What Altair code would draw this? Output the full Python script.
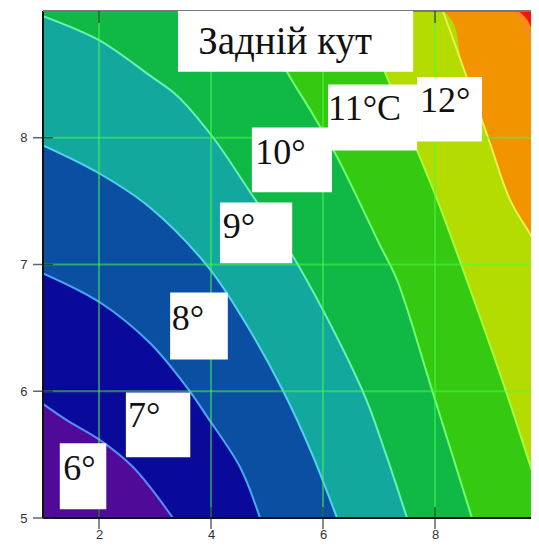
import altair as alt
import pandas as pd

# ---- axis ranges and ticks ----
X_MIN, X_MAX = 1.0, 9.714
Y_MIN, Y_MAX = 5.0, 9.0
x_ticks = [2, 4, 6, 8]
y_ticks = [5, 6, 7, 8]
y_grid = [6, 7, 8]

# ---- contour boundaries (x, y) ----
# boundary "k" separates band k-1 (left/below) from band k (right/above)
c7_x = [1.0, 1.43, 2.0, 2.61, 3.32]
c7_y = [5.90, 5.77, 5.62, 5.40, 5.0]
c8_x = [1.0, 2.02, 2.91, 3.57, 3.93, 4.52, 4.875]
c8_y = [6.93, 6.70, 6.38, 6.03, 5.80, 5.40, 5.0]
c9_x = [1.0, 2.0, 2.91, 3.95, 4.6, 5.29, 5.80, 6.25]
c9_y = [7.94, 7.72, 7.45, 6.98, 6.55, 6.0, 5.51, 5.0]
c10_x = [1.0, 2.0, 2.91, 3.4, 4.04, 4.7, 5.55, 6.71, 7.11, 7.5]
c10_y = [8.96, 8.77, 8.49, 8.33, 8.0, 7.57, 7.0, 6.0, 5.52, 5.0]
c11_x = [4.77, 5.41, 5.77, 6.25, 7.02, 7.32, 7.96, 8.66]
c11_y = [9.0, 8.48, 8.22, 7.85, 7.15, 6.88, 5.99, 5.0]
c12_x = [6.66, 7.14, 7.68, 8.04, 8.59, 9.29, 9.82, 10.05]
c12_y = [9.0, 8.48, 7.90, 7.51, 6.85, 5.97, 5.26, 5.0]
c13_x = [8.14, 8.5, 8.98, 9.34, 9.86, 10.3, 12.0]
c13_y = [9.0, 8.56, 7.96, 7.51, 7.12, 6.7, 5.0]
c14_x = [9.48, 9.86, 10.2, 12.0]
c14_y = [9.0, 8.64, 8.3, 5.0]

contours = {7: (c7_x, c7_y), 8: (c8_x, c8_y), 9: (c9_x, c9_y),
            10: (c10_x, c10_y), 11: (c11_x, c11_y), 12: (c12_x, c12_y),
            13: (c13_x, c13_y), 14: (c14_x, c14_y)}

band_colors = {6: "#500a98", 7: "#0a0a9a", 8: "#0b4fa2", 9: "#12a89e",
               10: "#10b846", 11: "#36c912", 12: "#b4dc00", 13: "#f29400"}
top_color = "#ff1010"
line_colors = {7: "#5a8cf5", 8: "#4aa8f5", 9: "#55d0f0", 10: "#6af0b0",
               11: "#70ff70", 12: "#a0ff40", 13: "#e8f050", 14: "#ff8040"}

# ---- label boxes and texts ----
lab_text = ["Задній кут", "11°C", "12°", "10°", "9°", "8°", "7°", "6°"]
lab_size = [39, 36, 36, 36, 36, 36, 36, 36]
lab_x = [3.77, 6.09, 7.73, 4.79, 4.21, 3.30, 2.52, 1.36]
lab_y = [8.66, 8.14, 8.20, 7.79, 7.21, 6.48, 5.72, 5.30]
box_x1 = [3.41, 6.09, 7.68, 4.73, 4.16, 3.27, 2.48, 1.30]
box_x2 = [7.61, 7.68, 8.84, 6.16, 5.45, 4.30, 3.63, 2.13]
box_y1 = [8.52, 7.90, 7.97, 7.57, 7.01, 6.25, 5.48, 5.07]
box_y2 = [9.0, 8.42, 8.48, 8.08, 7.49, 6.78, 5.99, 5.59]

xscale = alt.Scale(domain=[X_MIN, X_MAX], nice=False, zero=False)
yscale = alt.Scale(domain=[Y_MIN, Y_MAX], nice=False, zero=False)
xaxis = alt.Axis(values=x_ticks, format="d", ticks=False, tickSize=0, domain=False,
                 grid=False, labelPadding=10, labelFontSize=13, labelColor="#333",
                 labelFont="Liberation Sans", title=None)
yaxis = alt.Axis(values=y_ticks, format="d", ticks=False, tickSize=0, domain=False,
                 grid=False, labelPadding=16, labelFontSize=13, labelColor="#333",
                 labelFont="Liberation Sans", title=None)


def X(f):
    return alt.X(f, type="quantitative", scale=xscale, axis=xaxis, title=None)


def Y(f):
    return alt.Y(f, type="quantitative", scale=yscale, axis=yaxis, title=None)


layers = []
# filled bands (region below/left of each boundary), painted from highest to lowest
for band in [13, 12, 11, 10, 9, 8, 7, 6]:
    cx, cy = contours[band + 1]
    px, py = list(cx), list(cy)
    if px[0] > X_MIN:  # boundary meets the top edge: fill the full height to its left
        px = [X_MIN] + px
        py = [Y_MAX] + py
    df = pd.DataFrame({"x": px, "y": py, "y0": [Y_MIN] * len(px)})
    layers.append(
        alt.Chart(df).mark_area(interpolate="catmull-rom", color=band_colors[band],
                                clip=True, opacity=1)
        .encode(x=X("x"), y=Y("y"), y2="y0")
    )
# contour lines
for k, (cx, cy) in contours.items():
    df = pd.DataFrame({"x": cx, "y": cy})
    layers.append(
        alt.Chart(df).mark_line(interpolate="catmull-rom", color=line_colors[k],
                                strokeWidth=2, clip=True)
        .encode(x=X("x"), y=Y("y"))
    )
# grid lines
layers.append(alt.Chart(pd.DataFrame({"t": x_ticks})).mark_rule(
    color="#44ff44", opacity=0.5, strokeWidth=2).encode(x=X("t")))
layers.append(alt.Chart(pd.DataFrame({"t": y_grid})).mark_rule(
    color="#44ff44", opacity=0.5, strokeWidth=2).encode(y=Y("t")))
# frame lines (left, bottom dark; top grey)
layers.append(alt.Chart(pd.DataFrame({"t": [X_MIN]})).mark_rule(
    color="#111", strokeWidth=2).encode(x=X("t")))
layers.append(alt.Chart(pd.DataFrame({"t": [Y_MIN]})).mark_rule(
    color="#111", strokeWidth=2).encode(y=Y("t")))
layers.append(alt.Chart(pd.DataFrame({"t": [Y_MAX]})).mark_rule(
    color="#777", strokeWidth=2).encode(y=Y("t")))
# ticks crossing the frame
bt = pd.DataFrame({"x": x_ticks, "y": [Y_MIN] * len(x_ticks)})
tt = pd.DataFrame({"x": x_ticks, "y": [Y_MAX] * len(x_ticks)})
lt = pd.DataFrame({"x": [X_MIN] * len(y_ticks), "y": y_ticks})
layers.append(alt.Chart(bt).mark_tick(orient="vertical", size=22, thickness=1.5,
                                      color="#222").encode(x=X("x"), y=Y("y")))
layers.append(alt.Chart(tt).mark_tick(orient="vertical", size=24, thickness=1.5,
                                      color="#222", clip=True).encode(x=X("x"), y=Y("y")))
layers.append(alt.Chart(lt).mark_tick(orient="horizontal", size=20, thickness=1.5,
                                      color="#222").encode(x=X("x"), y=Y("y")))
# label boxes + texts
boxes = pd.DataFrame({"x1": box_x1, "x2": box_x2, "y1": box_y1, "y2": box_y2})
layers.append(alt.Chart(boxes).mark_rect(color="white", clip=True, opacity=1).encode(
    x=X("x1"), x2="x2", y=Y("y1"), y2="y2"))
labels = pd.DataFrame({"x": lab_x, "y": lab_y, "t": lab_text, "s": lab_size})
layers.append(alt.Chart(labels).mark_text(
    align="left", baseline="alphabetic", font="Liberation Serif",
    color="#111").encode(x=X("x"), y=Y("y"), text="t:N",
                         size=alt.Size("s:Q", scale=None, legend=None)))

chart = alt.layer(*layers).properties(
    width=488, height=507,
    autosize=alt.AutoSizeParams(type="none"),
    padding={"left": 35, "top": 3, "right": 0, "bottom": 24},
    background="white",
).configure_view(fill=top_color, strokeWidth=0)

chart.save("out.html", embed_options={"renderer": "svg", "actions": False})
